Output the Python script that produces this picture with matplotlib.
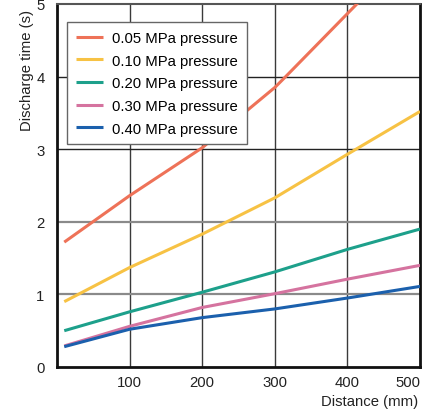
import matplotlib.pyplot as plt

plt.rcParams['font.family'] = ['Liberation Sans', 'DejaVu Sans']
plt.rcParams['font.size'] = 10.7

# distance (mm) and discharge time (s)
distance = [10, 100, 200, 300, 400, 500]
t_005_x = [10, 100, 200, 300, 315, 413, 425]
t_005 = [1.72, 2.36, 3.02, 3.85, 4.0, 5.0, 5.12]
t_010 = [0.90, 1.37, 1.83, 2.33, 2.93, 3.52]
t_020 = [0.50, 0.76, 1.03, 1.31, 1.62, 1.90]
t_030 = [0.29, 0.56, 0.82, 1.01, 1.21, 1.40]
t_040 = [0.28, 0.52, 0.68, 0.80, 0.95, 1.11]

labels = ['0.05 MPa pressure', '0.10 MPa pressure', '0.20 MPa pressure',
          '0.30 MPa pressure', '0.40 MPa pressure']
colors = ['#EE7258', '#F7C244', '#1DA08B', '#D5739F', '#1B60AD']

fig = plt.figure(figsize=(4.48, 4.14), dpi=100)
ax = fig.add_axes([57 / 448, 1 - 368 / 414, 363 / 448, 363 / 414])

ax.set_xlim(0, 500)
ax.set_ylim(0, 5)

# grid lines
for xv in [100, 200, 300, 400]:
    ax.axvline(xv, color='#3a3a3a', lw=1.0, zorder=1)
for yv in [1, 2]:
    ax.axhline(yv, color='#8a8a8a', lw=1.6, zorder=1)
for yv in [3, 4]:
    ax.axhline(yv, color='#222222', lw=1.0, zorder=1)

series = [(t_005_x, t_005), (distance, t_010), (distance, t_020),
          (distance, t_030), (distance, t_040)]
for (xs, ys), lab, c in zip(series, labels, colors):
    ax.plot(xs, ys, color=c, lw=2.2, label=lab, zorder=3, solid_capstyle='butt')

ax.set_xticks([100, 200, 300, 400, 500])
ax.set_yticks([0, 1, 2, 3, 4, 5])
ax.tick_params(length=0, labelsize=10.7, colors='#222222')
ax.tick_params(axis='x', pad=6)
ax.tick_params(axis='y', pad=9)
# last x label sits inside the right edge
ax.get_xticklabels()[-1].set_horizontalalignment('right')
ax.get_xticklabels()[-1].set_x(503)

for s in ['left', 'bottom', 'right']:
    ax.spines[s].set_linewidth(2.0)
    ax.spines[s].set_color('#111111')
ax.spines['top'].set_linewidth(1.5)
ax.spines['top'].set_color('#555555')

ax.set_xlabel('Distance (mm)', loc='right', color='#222222')
ax.set_ylabel('Discharge time (s)', loc='top', color='#222222')
ax.xaxis.set_label_coords(0.995, -0.075)
ax.yaxis.set_label_coords(-0.063, 0.985)

leg = ax.legend(loc='upper left', bbox_to_anchor=(0.0275, 0.95), fontsize=10.7,
                frameon=True, fancybox=False, framealpha=1, edgecolor='#666666',
                handlelength=1.85, handletextpad=0.6, labelspacing=0.58,
                borderpad=0.6, borderaxespad=0)
leg.get_frame().set_linewidth(1.0)
leg.set_zorder(5)

fig.savefig('out.png', dpi=100)
